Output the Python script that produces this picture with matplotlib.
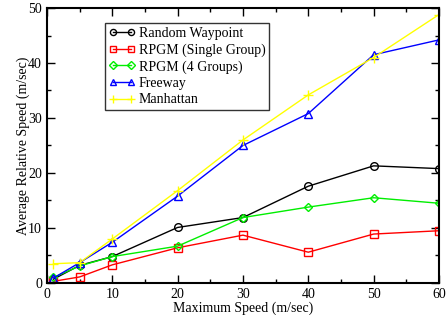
import matplotlib
matplotlib.use("Agg")
import matplotlib.pyplot as plt
from matplotlib.ticker import MultipleLocator

plt.rcParams['font.family'] = ['Liberation Serif', 'DejaVu Serif']

speeds = [1, 5, 10, 20, 30, 40, 50, 60]
random_waypoint = [0.7, 3.2, 4.8, 10.1, 11.9, 17.6, 21.3, 20.8]
rpgm_single = [0.3, 1.1, 3.3, 6.4, 8.7, 5.6, 8.9, 9.5]
rpgm_four = [1.0, 3.1, 4.8, 6.7, 11.9, 13.8, 15.5, 14.5]
freeway = [0.9, 3.7, 7.4, 15.8, 25.0, 30.8, 41.5, 44.2]
manhattan = [3.5, 3.7, 8.0, 16.8, 26.0, 34.2, 41.0, 48.8]

labels = ["Random Waypoint", "RPGM (Single Group)", "RPGM (4 Groups)", "Freeway", "Manhattan"]

fig = plt.figure(figsize=(4.47, 3.15), dpi=100)
ax = fig.add_axes([0.105, 0.1016, 0.877, 0.873])

ax.plot(speeds, random_waypoint, color='black', marker='o', ms=5.5, mfc='none', lw=1, label=labels[0])
ax.plot(speeds, rpgm_single, color='red', marker='s', ms=5.5, mfc='none', lw=1, label=labels[1])
ax.plot(speeds, rpgm_four, color='#00ee00', marker='D', ms=4.5, mfc='none', lw=1, label=labels[2])
ax.plot(speeds, freeway, color='blue', marker='^', ms=6, mfc='none', lw=1, label=labels[3])
ax.plot(speeds, manhattan, color='#ffff00', marker='+', ms=7, lw=1, label=labels[4])

ax.set_xlim(0, 60)
ax.set_ylim(0, 50)
ax.xaxis.set_major_locator(MultipleLocator(10))
ax.xaxis.set_minor_locator(MultipleLocator(5))
ax.yaxis.set_major_locator(MultipleLocator(10))
ax.yaxis.set_minor_locator(MultipleLocator(5))
ax.tick_params(which='both', direction='in', top=True, right=True, labelsize=10)
ax.tick_params(which='major', length=6, width=1)
ax.tick_params(which='minor', length=3, width=1)
for s in ax.spines.values():
    s.set_linewidth(1.5)

ax.set_xlabel("Maximum Speed (m/sec)", fontsize=10, labelpad=0.5)
ax.set_ylabel("Average Relative Speed (m/sec)", fontsize=10, labelpad=-1)

leg = ax.legend(loc='upper left', bbox_to_anchor=(0.148, 0.945), fontsize=10,
                frameon=True, fancybox=False, edgecolor='black', handlelength=1.9,
                numpoints=2, markerscale=0.8,
                handletextpad=0.3, labelspacing=0.25, borderpad=0.25, borderaxespad=0)
leg.get_frame().set_linewidth(1)

fig.savefig("out.png", dpi=100)
